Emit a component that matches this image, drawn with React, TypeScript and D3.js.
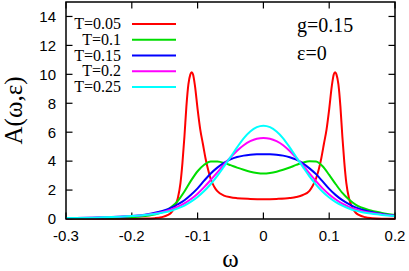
import React, { useRef, useEffect } from "react";
import * as d3 from "d3";

// omega grid shared by the broader curves
const omegaGrid = [
  -0.3, -0.25, -0.2, -0.18, -0.16, -0.15, -0.14, -0.13, -0.12, -0.11, -0.1,
  -0.09, -0.08, -0.07, -0.06, -0.05, -0.04, -0.03, -0.02, -0.01, 0, 0.01, 0.02,
  0.03, 0.04, 0.05, 0.06, 0.07, 0.08, 0.09, 0.1, 0.11, 0.12, 0.13, 0.14, 0.15,
  0.16, 0.18, 0.2,
];

// T=0.05 needs a finer grid around its sharp peaks
const omegaRed = [
  -0.3, -0.25, -0.2, -0.18, -0.165, -0.155, -0.145, -0.14, -0.135, -0.13,
  -0.126, -0.123, -0.12, -0.117, -0.114, -0.111, -0.109, -0.107, -0.104, -0.1,
  -0.096, -0.092, -0.088, -0.084, -0.08, -0.075, -0.07, -0.06, -0.05, -0.04,
  -0.02, 0, 0.02, 0.04, 0.05, 0.06, 0.07, 0.075, 0.08, 0.084, 0.088, 0.092,
  0.096, 0.1, 0.104, 0.107, 0.109, 0.111, 0.114, 0.117, 0.12, 0.123, 0.126,
  0.13, 0.135, 0.14, 0.145, 0.155, 0.165, 0.18, 0.2,
];
const aT005 = [
  0.01, 0.01, 0.02, 0.03, 0.06, 0.12, 0.28, 0.45, 0.8, 1.45, 2.5, 3.9, 5.7,
  7.8, 9.3, 10.0, 10.15, 10.0, 9.2, 7.6, 6.2, 5.2, 4.2, 3.4, 2.75, 2.25, 1.92,
  1.62, 1.5, 1.44, 1.39, 1.37, 1.39, 1.45, 1.52, 1.66, 1.95, 2.3, 2.8, 3.4,
  4.2, 5.2, 6.2, 7.6, 9.2, 10.0, 10.15, 10.0, 9.3, 7.8, 5.7, 3.9, 2.5, 1.45,
  0.8, 0.45, 0.28, 0.12, 0.06, 0.02, 0.01,
];
const aT01 = [
  0.05, 0.07, 0.12, 0.2, 0.38, 0.55, 0.82, 1.25, 1.9, 2.65, 3.3, 3.75, 3.98,
  3.97, 3.88, 3.72, 3.55, 3.4, 3.27, 3.18, 3.14, 3.18, 3.27, 3.4, 3.56, 3.74,
  3.9, 4.0, 3.97, 3.65, 3.05, 2.4, 1.8, 1.35, 1.0, 0.78, 0.62, 0.42, 0.28,
];
const aT015 = [
  0.06, 0.1, 0.2, 0.3, 0.48, 0.6, 0.78, 1.02, 1.3, 1.68, 2.12, 2.65, 3.15,
  3.55, 3.88, 4.12, 4.28, 4.38, 4.44, 4.47, 4.48, 4.47, 4.44, 4.38, 4.27, 4.1,
  3.85, 3.5, 3.1, 2.6, 2.08, 1.65, 1.3, 1.03, 0.8, 0.64, 0.52, 0.35, 0.22,
];
const aT02 = [
  0.06, 0.1, 0.2, 0.28, 0.42, 0.52, 0.66, 0.85, 1.08, 1.38, 1.75, 2.2, 2.7,
  3.22, 3.75, 4.25, 4.72, 5.1, 5.38, 5.55, 5.6, 5.55, 5.38, 5.1, 4.7, 4.22,
  3.7, 3.15, 2.62, 2.12, 1.7, 1.35, 1.06, 0.84, 0.67, 0.54, 0.45, 0.32, 0.22,
];
const aT025 = [
  0.07, 0.11, 0.2, 0.27, 0.38, 0.46, 0.57, 0.73, 0.93, 1.2, 1.52, 1.93, 2.42,
  2.98, 3.62, 4.28, 4.95, 5.58, 6.05, 6.35, 6.45, 6.35, 6.05, 5.58, 4.95, 4.27,
  3.6, 2.95, 2.38, 1.88, 1.48, 1.16, 0.92, 0.73, 0.58, 0.47, 0.39, 0.28, 0.2,
];

const legendLabels = ["T=0.05", "T=0.1", "T=0.15", "T=0.2", "T=0.25"];
const seriesColors = ["#ff0000", "#00dd00", "#0000ff", "#ff00ff", "#00ffff"];
const xTicks = [-0.3, -0.2, -0.1, 0, 0.1, 0.2];
const yTicks = [0, 2, 4, 6, 8, 10, 12, 14];

const series = [
  { x: omegaRed, y: aT005 },
  { x: omegaGrid, y: aT01 },
  { x: omegaGrid, y: aT015 },
  { x: omegaGrid, y: aT02 },
  { x: omegaGrid, y: aT025 },
];

const SANS = "'Liberation Sans', Arial, Helvetica, sans-serif";
const SERIF = "'Liberation Serif', 'Times New Roman', Times, serif";

const App = () => {
  const svgRef = useRef<SVGSVGElement>(null);

  useEffect(() => {
    const width = 409;
    const height = 271;
    const left = 66;
    const right = 395;
    const top = 2;
    const bottom = 219;
    const tick = 6.5;

    const x = d3.scaleLinear().domain([-0.3, 0.2]).range([left, right]);
    const y = d3.scaleLinear().domain([0, 15]).range([bottom, top]);

    const svg = d3.select(svgRef.current).attr("width", width).attr("height", height);
    svg.selectAll("*").remove();

    const axes = svg.append("g").attr("stroke", "#000").attr("stroke-width", 1.2);

    // ticks mirrored on all four sides, pointing inward
    xTicks.forEach((t) => {
      axes.append("line").attr("x1", x(t)).attr("x2", x(t)).attr("y1", bottom).attr("y2", bottom - tick);
      axes.append("line").attr("x1", x(t)).attr("x2", x(t)).attr("y1", top).attr("y2", top + tick);
    });
    yTicks.forEach((t) => {
      axes.append("line").attr("x1", left).attr("x2", left + tick).attr("y1", y(t)).attr("y2", y(t));
      axes.append("line").attr("x1", right).attr("x2", right - tick).attr("y1", y(t)).attr("y2", y(t));
    });

    const line = d3
      .line<[number, number]>()
      .x((d) => x(d[0]))
      .y((d) => y(d[1]))
      .curve(d3.curveMonotoneX);

    const plot = svg.append("g");
    series.forEach((s, i) => {
      const pts = s.x.map((v, j) => [v, s.y[j]] as [number, number]);
      plot
        .append("path")
        .attr("d", line(pts))
        .attr("fill", "none")
        .attr("stroke", seriesColors[i])
        .attr("stroke-width", 2)
        .attr("stroke-linejoin", "round");
    });

    svg
      .append("rect")
      .attr("x", left)
      .attr("y", top)
      .attr("width", right - left)
      .attr("height", bottom - top)
      .attr("fill", "none")
      .attr("stroke", "#000")
      .attr("stroke-width", 1.5);

    // tick labels
    svg
      .append("g")
      .selectAll("text")
      .data(xTicks)
      .enter()
      .append("text")
      .attr("x", (d) => x(d))
      .attr("y", 241)
      .attr("text-anchor", "middle")
      .style("font-family", SANS)
      .style("font-size", "15px")
      .text((d) => String(d));

    svg
      .append("g")
      .selectAll("text")
      .data(yTicks)
      .enter()
      .append("text")
      .attr("x", 56)
      .attr("y", (d) => y(d) + 5.3)
      .attr("text-anchor", "end")
      .style("font-family", SANS)
      .style("font-size", "15px")
      .text((d) => String(d));

    // axis titles
    svg
      .append("text")
      .attr("transform", `translate(22,${(top + bottom) / 2}) rotate(-90)`)
      .attr("text-anchor", "middle")
      .style("font-family", SERIF)
      .style("font-size", "25px")
      .text("A(ω,ε)");

    svg
      .append("text")
      .attr("x", (left + right) / 2)
      .attr("y", 267)
      .attr("text-anchor", "middle")
      .style("font-family", SERIF)
      .style("font-size", "25px")
      .text("ω");

    // legend
    const legend = svg.append("g");
    legendLabels.forEach((label, i) => {
      const by = 29 + i * 15.75;
      legend
        .append("text")
        .attr("x", 121)
        .attr("y", by)
        .attr("text-anchor", "end")
        .style("font-family", SERIF)
        .style("font-size", "16px")
        .text(label);
      legend
        .append("line")
        .attr("x1", 132)
        .attr("x2", 176)
        .attr("y1", by - 5)
        .attr("y2", by - 5)
        .attr("stroke", seriesColors[i])
        .attr("stroke-width", 2);
    });

    // parameter annotations
    svg
      .append("text")
      .attr("x", 297)
      .attr("y", 31.5)
      .style("font-family", SERIF)
      .style("font-size", "20px")
      .text("g=0.15");
    svg
      .append("text")
      .attr("x", 297)
      .attr("y", 60)
      .style("font-family", SERIF)
      .style("font-size", "20px")
      .text("ε=0");
  }, []);

  return (
    <div style={{ position: "absolute", left: 0, top: 0, background: "#fff" }}>
      <svg ref={svgRef} style={{ display: "block" }}></svg>
    </div>
  );
};

export default App;
